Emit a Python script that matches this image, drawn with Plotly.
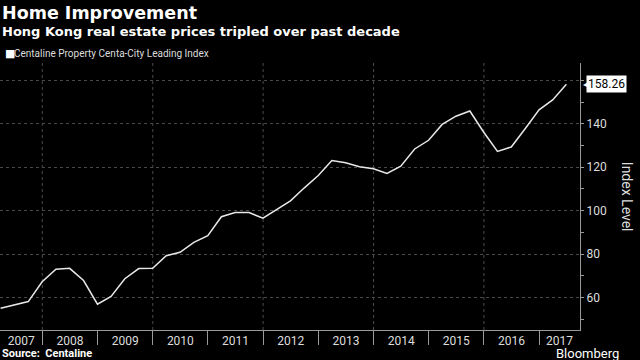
import pandas as pd
import plotly.graph_objects as go

# ---- data (quarterly) ----
quarter_ends = pd.date_range("2007-03-31", periods=42, freq="QE")
index_values = [55.0, 56.6, 58.1, 67.2,
                73.0, 73.4, 67.8, 56.9,
                60.5, 68.6, 73.3, 73.4,
                79.2, 80.8, 85.4, 88.5,
                97.2, 99.1, 99.1, 96.5,
                100.3, 104.5, 110.5, 116.2,
                123.1, 122.0, 120.2, 119.3,
                117.1, 120.5, 128.4, 132.4,
                139.7, 143.5, 145.9, 136.1,
                127.3, 129.3, 137.7, 146.4,
                151.0, 158.26]
years = list(range(2007, 2018))
grid_years = [2008, 2010, 2012, 2014, 2016]
y_ticks = [60, 80, 100, 120, 140, 160]
last_label = "158.26"

x_start = pd.Timestamp("2007-03-27")
x_end = pd.Timestamp("2017-09-28")

# tick label positions: centre of the visible part of each year
label_pos = []
for yr in years:
    a = max(pd.Timestamp(f"{yr}-01-01"), x_start)
    b = min(pd.Timestamp(f"{yr + 1}-01-01"), x_end)
    label_pos.append(a + (b - a) / 2)

fig = go.Figure()
fig.add_trace(go.Scatter(x=quarter_ends, y=index_values, mode="lines",
                         line=dict(color="#e8e8e8", width=1.5),
                         showlegend=False, hoverinfo="skip"))

grid_col = "#4a4a4a"
axis_col = "#9a9a9a"
tick_font = dict(family="Roboto, sans-serif", size=12, color="#dddddd")

for gy in grid_years:
    fig.add_shape(type="line", xref="x", yref="paper",
                  x0=f"{gy}-01-01", x1=f"{gy}-01-01", y0=0, y1=1,
                  line=dict(color=grid_col, width=1, dash="dot"), layer="below")

fig.update_layout(
    width=640, height=360,
    margin=dict(l=0, r=60, t=63, b=30),
    paper_bgcolor="black", plot_bgcolor="black",
    showlegend=False,
    xaxis=dict(range=[x_start, x_end], tickvals=label_pos,
               ticktext=[str(y) for y in years],
               ticks="", showgrid=False, zeroline=False,
               showline=True, linecolor=axis_col, linewidth=1,
               tickfont=tick_font, automargin=False,
               minor=dict(tickvals=[f"{y}-01-01" for y in years[1:]],
                          ticks="outside", ticklen=14, tickcolor=axis_col,
                          showgrid=False)),
    yaxis=dict(side="right", range=[45, 168], tickvals=y_ticks,
               ticks="outside", ticklen=3, tickcolor=axis_col,
               showgrid=True, gridcolor=grid_col, griddash="dot",
               zeroline=False, showline=True, linecolor=axis_col,
               linewidth=1, tickfont=tick_font, automargin=False,
               minor=dict(dtick=10, tick0=50, ticks="outside", ticklen=3,
                          tickcolor=axis_col, showgrid=False)),
)

def px_y(Y):
    return (330 - Y) / 267.0

ann = [
    dict(text="<b>Home Improvement</b>", x=0, y=px_y(13), xanchor="left",
         yanchor="middle", font=dict(family="DejaVu Sans", size=17.5, color="white")),
    dict(text="<b>Hong Kong real estate prices tripled over past decade</b>",
         x=0, y=px_y(32), xanchor="left", yanchor="middle",
         font=dict(family="DejaVu Sans", size=13, color="white")),
    dict(text="■", x=3 / 580.3, y=px_y(53.5), xanchor="left", yanchor="middle",
         font=dict(family="DejaVu Sans", size=11, color="white")),
    dict(text="Centaline Property Centa-City Leading Index", x=12 / 580.3,
         y=px_y(53.5), xanchor="left", yanchor="middle",
         font=dict(family="Roboto", size=10, color="#dddddd")),
    dict(text="<b>Source:  Centaline</b>", x=0, y=px_y(353), xanchor="left",
         yanchor="middle", font=dict(family="Roboto", size=11, color="white")),
    dict(text="Bloomberg", x=621.7 / 580.3, y=px_y(353), xanchor="right",
         yanchor="middle", font=dict(family="Roboto", size=13, color="white")),
    dict(text="Index Level", x=628 / 580.3, y=0.5, xanchor="center",
         yanchor="middle", textangle=90,
         font=dict(family="Roboto", size=14, color="#dddddd")),
    dict(text=last_label, xref="paper", yref="y", x=1, y=index_values[-1],
         xanchor="left", yanchor="middle", xshift=6, bgcolor="white",
         borderpad=1, font=dict(family="Roboto", size=12, color="black")),
    dict(text="◀", xref="paper", yref="y", x=1, y=index_values[-1],
         xanchor="left", yanchor="middle", xshift=1,
         font=dict(family="DejaVu Sans", size=8, color="white")),
]
for a in ann:
    a.setdefault("xref", "paper")
    a.setdefault("yref", "paper")
    a["showarrow"] = False
fig.update_layout(annotations=ann)

fig.write_html("out.html",
               config={"displayModeBar": False},
               post_script="document.body.style.margin='0';"
                           "document.body.style.background='black';")
